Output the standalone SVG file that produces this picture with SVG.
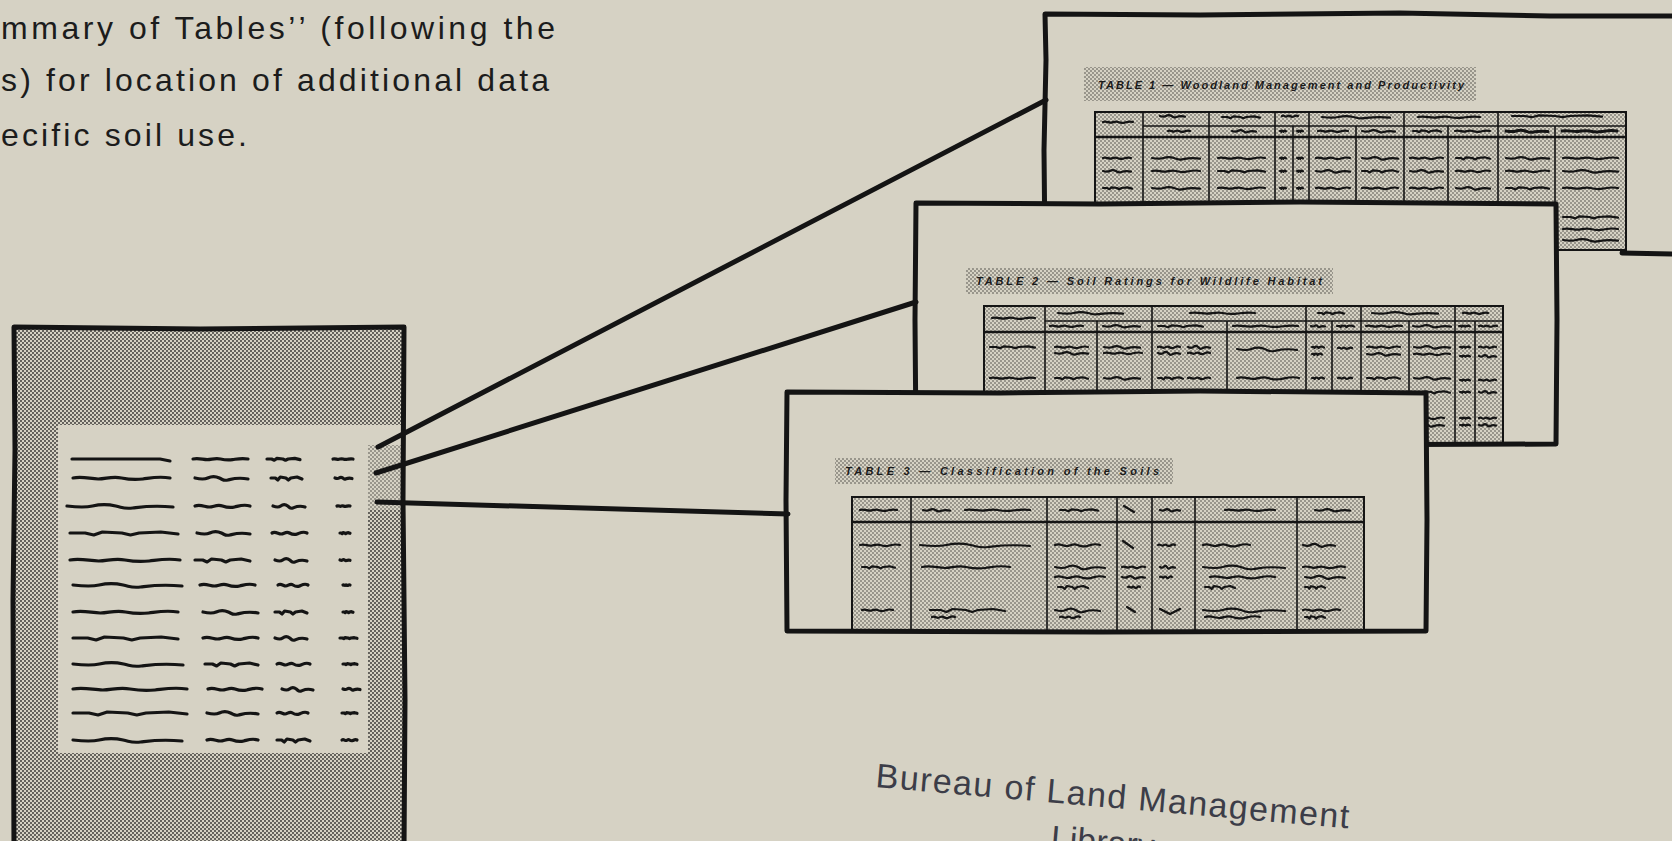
<svg xmlns="http://www.w3.org/2000/svg" width="1672" height="841" viewBox="0 0 1672 841">
<defs>
<pattern id="dk" width="4" height="4" patternUnits="userSpaceOnUse">
<rect width="4" height="4" fill="#d6d2c4"/>
<circle cx="1" cy="1" r="0.88" fill="#2b2a28"/>
<circle cx="3" cy="3" r="0.88" fill="#2b2a28"/>
</pattern>
<pattern id="lt" width="4" height="4" patternUnits="userSpaceOnUse">
<rect width="4" height="4" fill="#d6d2c4"/>
<circle cx="1" cy="1" r="0.72" fill="#3a3935"/>
<circle cx="3" cy="3" r="0.72" fill="#3a3935"/>
</pattern>
<path id="wa" class="wv" vector-effect="non-scaling-stroke" d="M0 0 C10 -2 18 1 26 1 S40 -2 50 0 S64 2 72 1 S88 -2 100 0"/>
<path id="wb" class="wv" vector-effect="non-scaling-stroke" d="M0 0 C8 1 16 2 24 0 S38 -2 46 0 S54 3 62 2 S80 -1 100 1"/>
<path id="wc" class="wv" vector-effect="non-scaling-stroke" d="M0 0 L14 0 L22 2 L30 -1 L48 0 L56 2 L64 0 L84 -1 L100 1"/>
</defs>
<style>
.wv{fill:none;stroke:#141414;stroke-linecap:round;stroke-linejoin:round}
.d{stroke-width:3.2}
.t{stroke-width:2.2}
.pg{fill:#d6d2c4}
.bd{fill:none;stroke:#141414;stroke-width:5;stroke-linejoin:round;stroke-linecap:round}
.tb{fill:url(#lt);stroke:#141414;stroke-width:2}
.ln{stroke:#141414;stroke-width:1.6}
.hl{stroke:#141414;stroke-width:2.6}
.ttl{fill:url(#lt)}
.tt{font-family:"Liberation Sans",Arial,sans-serif;font-weight:bold;font-style:italic;font-size:11px;fill:#1a1a1a}
.cn{fill:none;stroke:#141414;stroke-width:5;stroke-linecap:round}
.body{font-family:"Liberation Sans",Arial,sans-serif;font-size:32px;fill:#1c1c1c}
.stamp{font-family:"Liberation Sans",Arial,sans-serif;font-size:34px;fill:#3c3d48}
</style>
<rect width="1672" height="841" fill="#d6d2c4"/>

<g id="intro-text">
<text class="body" x="1" y="39" textLength="554" lengthAdjust="spacing">mmary of Tables’’ (following the</text>
<text class="body" x="1" y="91" textLength="548" lengthAdjust="spacing">s) for location of additional data</text>
<text class="body" x="1" y="146" textLength="246" lengthAdjust="spacing">ecific soil use.</text>
</g>

<g id="page1">
<rect class="pg" x="1045" y="14" width="640" height="239"/>
<rect class="ttl" x="1084" y="67" width="392" height="34"/>
<text class="tt" x="1098" y="89" textLength="366" lengthAdjust="spacing">TABLE 1 — Woodland Management and Productivity</text>
<rect class="tb" x="1095" y="112" width="531" height="138"/>
<g class="ln">
<line x1="1143" y1="112" x2="1143" y2="250"/><line x1="1209" y1="112" x2="1209" y2="250"/>
<line x1="1275" y1="112" x2="1275" y2="250"/><line x1="1309" y1="112" x2="1309" y2="250"/>
<line x1="1404" y1="112" x2="1404" y2="250"/><line x1="1498" y1="112" x2="1498" y2="250"/>
<line x1="1293" y1="126" x2="1293" y2="250"/><line x1="1356" y1="126" x2="1356" y2="250"/>
<line x1="1448" y1="126" x2="1448" y2="250"/><line x1="1555" y1="126" x2="1555" y2="250"/>
<line x1="1143" y1="126" x2="1626" y2="126"/>
</g>
<line class="hl" x1="1095" y1="137" x2="1626" y2="137"/>
<g class="t">
<use href="#wa" transform="translate(1103 122) scale(.30 .6)"/>
<use href="#wb" transform="translate(1160 116) scale(.25 .6)"/>
<use href="#wc" transform="translate(1222 117) scale(.38 .6)"/>
<use href="#wa" transform="translate(1282 116) scale(.16 .6)"/>
<use href="#wb" transform="translate(1322 117) scale(.68 .6)"/>
<use href="#wa" transform="translate(1418 117) scale(.62 .6)"/>
<use href="#wc" transform="translate(1512 116) scale(.90 .6)"/>
<use href="#wa" transform="translate(1168 131) scale(.22 .6)"/>
<use href="#wb" transform="translate(1232 131) scale(.24 .6)"/>
<use href="#wc" transform="translate(1280 131) scale(.06 .4)"/>
<use href="#wc" transform="translate(1297 131) scale(.06 .4)"/>
<use href="#wa" transform="translate(1318 131) scale(.30 .6)"/>
<use href="#wb" transform="translate(1362 131) scale(.33 .6)"/>
<use href="#wc" transform="translate(1413 131) scale(.28 .6)"/>
<use href="#wa" transform="translate(1455 131) scale(.35 .6)"/>
<use href="#wb" style="stroke-width:3" transform="translate(1506 131) scale(.42 .6)"/>
<use href="#wa" style="stroke-width:3" transform="translate(1562 131) scale(.55 .6)"/>
<use href="#wa" transform="translate(1103 158) scale(.28 .6)"/>
<use href="#wb" transform="translate(1103 171) scale(.28 .6)"/>
<use href="#wc" transform="translate(1103 188) scale(.29 .6)"/>
<use href="#wb" transform="translate(1152 158) scale(.48 .7)"/>
<use href="#wa" transform="translate(1152 171) scale(.48 .7)"/>
<use href="#wb" transform="translate(1152 188) scale(.48 .7)"/>
<use href="#wa" transform="translate(1218 158) scale(.47 .7)"/>
<use href="#wc" transform="translate(1218 171) scale(.47 .7)"/>
<use href="#wa" transform="translate(1218 188) scale(.47 .7)"/>
<use href="#wc" transform="translate(1280 158) scale(.06 .4)"/>
<use href="#wc" transform="translate(1297 158) scale(.06 .4)"/>
<use href="#wc" transform="translate(1280 171) scale(.06 .4)"/>
<use href="#wc" transform="translate(1297 171) scale(.06 .4)"/>
<use href="#wc" transform="translate(1280 188) scale(.06 .4)"/>
<use href="#wc" transform="translate(1297 188) scale(.06 .4)"/>
<use href="#wa" transform="translate(1316 158) scale(.34 .7)"/>
<use href="#wb" transform="translate(1316 171) scale(.34 .7)"/>
<use href="#wa" transform="translate(1316 188) scale(.34 .7)"/>
<use href="#wb" transform="translate(1362 158) scale(.36 .7)"/>
<use href="#wc" transform="translate(1362 171) scale(.36 .7)"/>
<use href="#wa" transform="translate(1362 188) scale(.36 .7)"/>
<use href="#wa" transform="translate(1410 158) scale(.33 .7)"/>
<use href="#wb" transform="translate(1410 171) scale(.33 .7)"/>
<use href="#wa" transform="translate(1410 188) scale(.33 .7)"/>
<use href="#wc" transform="translate(1456 158) scale(.34 .7)"/>
<use href="#wa" transform="translate(1456 171) scale(.34 .7)"/>
<use href="#wb" transform="translate(1456 188) scale(.34 .7)"/>
<use href="#wb" transform="translate(1506 158) scale(.43 .7)"/>
<use href="#wa" transform="translate(1506 171) scale(.43 .7)"/>
<use href="#wc" transform="translate(1506 188) scale(.43 .7)"/>
<use href="#wa" transform="translate(1563 158) scale(.55 .7)"/>
<use href="#wb" transform="translate(1563 171) scale(.55 .7)"/>
<use href="#wa" transform="translate(1563 188) scale(.55 .7)"/>
<use href="#wc" transform="translate(1563 217) scale(.55 .7)"/>
<use href="#wa" transform="translate(1563 229) scale(.55 .7)"/>
<use href="#wb" transform="translate(1563 240) scale(.55 .7)"/>
</g>
<path class="bd" d="M1045 253 L1044 150 L1046 60 L1045 14 L1200 15 L1400 13 L1550 16 L1672 16"/>
<path class="bd" d="M1622 253 L1672 254"/>
</g>

<g id="page2">
<rect class="pg" x="915" y="203" width="642" height="241"/>
<rect class="ttl" x="966" y="268" width="367" height="26"/>
<text class="tt" x="976" y="285" textLength="346" lengthAdjust="spacing">TABLE 2 — Soil Ratings for Wildlife Habitat</text>
<rect class="tb" x="984" y="306" width="519" height="138"/>
<g class="ln">
<line x1="1045" y1="306" x2="1045" y2="444"/><line x1="1152" y1="306" x2="1152" y2="444"/>
<line x1="1306" y1="306" x2="1306" y2="444"/><line x1="1361" y1="306" x2="1361" y2="444"/>
<line x1="1455" y1="306" x2="1455" y2="444"/>
<line x1="1097" y1="321" x2="1097" y2="444"/><line x1="1227" y1="321" x2="1227" y2="444"/>
<line x1="1332" y1="321" x2="1332" y2="444"/><line x1="1409" y1="321" x2="1409" y2="444"/>
<line x1="1475" y1="321" x2="1475" y2="444"/>
<line x1="1045" y1="321" x2="1503" y2="321"/>
</g>
<line class="hl" x1="984" y1="332" x2="1503" y2="332"/>
<g class="t">
<use href="#wa" transform="translate(992 318) scale(.43 .6)"/>
<use href="#wb" transform="translate(1058 313) scale(.65 .6)"/>
<use href="#wa" transform="translate(1190 313) scale(.65 .6)"/>
<use href="#wc" transform="translate(1318 313) scale(.26 .6)"/>
<use href="#wb" transform="translate(1372 313) scale(.66 .6)"/>
<use href="#wa" transform="translate(1463 313) scale(.25 .6)"/>
<use href="#wa" transform="translate(1050 326) scale(.33 .6)"/>
<use href="#wb" transform="translate(1103 326) scale(.37 .6)"/>
<use href="#wc" transform="translate(1158 326) scale(.45 .6)"/>
<use href="#wa" transform="translate(1233 326) scale(.65 .6)"/>
<use href="#wb" transform="translate(1311 326) scale(.14 .5)"/>
<use href="#wc" transform="translate(1337 326) scale(.17 .5)"/>
<use href="#wa" transform="translate(1366 326) scale(.36 .6)"/>
<use href="#wb" transform="translate(1413 326) scale(.38 .6)"/>
<use href="#wc" transform="translate(1459 326) scale(.11 .4)"/>
<use href="#wa" transform="translate(1479 326) scale(.18 .5)"/>
<use href="#wc" transform="translate(990 347) scale(.45 .6)"/>
<use href="#wa" transform="translate(990 378) scale(.45 .6)"/>
<use href="#wa" transform="translate(1055 347) scale(.33 .7)"/>
<use href="#wb" transform="translate(1055 353) scale(.33 .7)"/>
<use href="#wc" transform="translate(1055 378) scale(.33 .7)"/>
<use href="#wb" transform="translate(1104 347) scale(.36 .7)"/>
<use href="#wa" transform="translate(1104 353) scale(.38 .7)"/>
<use href="#wb" transform="translate(1104 378) scale(.36 .7)"/>
<use href="#wa" transform="translate(1158 347) scale(.22 .8)"/>
<use href="#wb" transform="translate(1188 347) scale(.22 .8)"/>
<use href="#wb" transform="translate(1158 353) scale(.22 .8)"/>
<use href="#wa" transform="translate(1188 353) scale(.22 .8)"/>
<use href="#wc" transform="translate(1158 378) scale(.25 .7)"/>
<use href="#wa" transform="translate(1188 378) scale(.22 .7)"/>
<use href="#wb" transform="translate(1237 349) scale(.60 1)"/>
<use href="#wa" transform="translate(1237 378) scale(.62 1)"/>
<use href="#wc" transform="translate(1312 347) scale(.12 .5)"/>
<use href="#wc" transform="translate(1312 354) scale(.10 .5)"/>
<use href="#wc" transform="translate(1312 378) scale(.12 .5)"/>
<use href="#wa" transform="translate(1338 348) scale(.14 .6)"/>
<use href="#wa" transform="translate(1338 378) scale(.14 .6)"/>
<use href="#wa" transform="translate(1367 347) scale(.33 .7)"/>
<use href="#wb" transform="translate(1367 354) scale(.33 .7)"/>
<use href="#wc" transform="translate(1367 378) scale(.33 .7)"/>
<use href="#wb" transform="translate(1414 347) scale(.36 .7)"/>
<use href="#wa" transform="translate(1414 354) scale(.36 .7)"/>
<use href="#wb" transform="translate(1414 378) scale(.36 .7)"/>
<use href="#wc" transform="translate(1414 392) scale(.36 .7)"/>
<use href="#wa" transform="translate(1414 418) scale(.30 .7)"/>
<use href="#wb" transform="translate(1414 425) scale(.30 .7)"/>
<use href="#wc" transform="translate(1460 347) scale(.10 .4)"/>
<use href="#wc" transform="translate(1460 356) scale(.10 .4)"/>
<use href="#wc" transform="translate(1460 380) scale(.10 .4)"/>
<use href="#wc" transform="translate(1460 392) scale(.10 .4)"/>
<use href="#wc" transform="translate(1460 418) scale(.10 .4)"/>
<use href="#wc" transform="translate(1460 425) scale(.10 .4)"/>
<use href="#wa" transform="translate(1479 347) scale(.17 .6)"/>
<use href="#wb" transform="translate(1479 356) scale(.17 .6)"/>
<use href="#wa" transform="translate(1479 380) scale(.17 .6)"/>
<use href="#wb" transform="translate(1479 392) scale(.17 .6)"/>
<use href="#wa" transform="translate(1479 418) scale(.17 .6)"/>
<use href="#wb" transform="translate(1479 425) scale(.17 .6)"/>
</g>
<path class="bd" d="M916 203 L1100 204 L1300 202 L1556 204 L1557 320 L1556 444 L1300 445 L916 444 L915 320 Z"/>
</g>

<g id="page3">
<rect class="pg" x="787" y="392" width="639" height="239"/>
<rect class="ttl" x="835" y="458" width="338" height="26"/>
<text class="tt" x="845" y="475" textLength="314" lengthAdjust="spacing">TABLE 3 — Classification of the Soils</text>
<rect class="tb" x="852" y="497" width="512" height="134"/>
<g class="ln">
<line x1="911" y1="497" x2="911" y2="631"/><line x1="1047" y1="497" x2="1047" y2="631"/>
<line x1="1117" y1="497" x2="1117" y2="631"/><line x1="1152" y1="497" x2="1152" y2="631"/>
<line x1="1195" y1="497" x2="1195" y2="631"/><line x1="1297" y1="497" x2="1297" y2="631"/>
</g>
<line class="hl" x1="852" y1="522" x2="1364" y2="522"/>
<g class="t">
<use href="#wa" transform="translate(860 510) scale(.37 .6)"/>
<use href="#wb" transform="translate(923 510) scale(.27 .6)"/>
<use href="#wa" transform="translate(965 510) scale(.65 .6)"/>
<use href="#wc" transform="translate(1060 510) scale(.38 .6)"/>
<path class="wv" d="M1124 506 L1134 512"/>
<use href="#wb" transform="translate(1160 510) scale(.20 .6)"/>
<use href="#wa" transform="translate(1225 510) scale(.50 .6)"/>
<use href="#wb" transform="translate(1315 510) scale(.35 .6)"/>
<use href="#wa" transform="translate(860 545) scale(.40 .7)"/>
<use href="#wc" transform="translate(862 567) scale(.33 .7)"/>
<use href="#wa" transform="translate(862 610) scale(.31 .7)"/>
<use href="#wb" transform="translate(920 545) scale(1.10 1)"/>
<use href="#wa" transform="translate(922 567) scale(.88 1)"/>
<use href="#wc" transform="translate(930 610) scale(.75 1)"/>
<use href="#wa" transform="translate(932 617) scale(.23 .8)"/>
<use href="#wa" transform="translate(1055 545) scale(.45 1)"/>
<use href="#wb" transform="translate(1055 567) scale(.50 1)"/>
<use href="#wa" transform="translate(1055 577) scale(.50 1)"/>
<use href="#wc" transform="translate(1058 587) scale(.30 1)"/>
<use href="#wb" transform="translate(1055 610) scale(.45 1)"/>
<use href="#wa" transform="translate(1060 617) scale(.20 .8)"/>
<path class="wv" d="M1123 541 L1133 548"/>
<use href="#wa" transform="translate(1122 567) scale(.23 .7)"/>
<use href="#wb" transform="translate(1122 577) scale(.23 .7)"/>
<use href="#wa" transform="translate(1128 587) scale(.12 .7)"/>
<path class="wv" d="M1127 607 L1135 612"/>
<use href="#wa" transform="translate(1158 545) scale(.17 .7)"/>
<use href="#wb" transform="translate(1160 567) scale(.15 .7)"/>
<use href="#wa" transform="translate(1160 577) scale(.12 .7)"/>
<path class="wv" style="stroke-width:2.4" d="M1160 609 L1170 614 L1180 609"/>
<use href="#wa" transform="translate(1203 545) scale(.47 1)"/>
<use href="#wb" transform="translate(1203 567) scale(.82 1)"/>
<use href="#wa" transform="translate(1210 577) scale(.65 1)"/>
<use href="#wc" transform="translate(1205 587) scale(.30 1)"/>
<use href="#wb" transform="translate(1203 610) scale(.82 1)"/>
<use href="#wa" transform="translate(1205 617) scale(.55 1)"/>
<use href="#wb" transform="translate(1303 545) scale(.32 .8)"/>
<use href="#wa" transform="translate(1303 567) scale(.42 .8)"/>
<use href="#wb" transform="translate(1305 577) scale(.40 .8)"/>
<use href="#wc" transform="translate(1305 587) scale(.20 .8)"/>
<use href="#wa" transform="translate(1303 610) scale(.37 .8)"/>
<use href="#wc" transform="translate(1305 617) scale(.20 .8)"/>
</g>
<path class="bd" d="M787 392 L1000 393 L1200 391 L1426 393 L1427 520 L1426 631 L1100 632 L787 631 L786 500 Z"/>
</g>

<g id="document">
<rect x="14" y="327" width="390" height="530" fill="url(#dk)"/>
<rect class="pg" x="58" y="425" width="310" height="328"/>
<rect class="pg" x="368" y="425" width="34" height="20"/>
<rect x="368" y="445" width="34" height="65" fill="url(#lt)"/>
<g class="d">
<path class="wv" d="M72 459 L160 459 L170 461"/>
<use href="#wa" transform="translate(193 459) scale(.55 .6)"/>
<use href="#wc" transform="translate(267 459) scale(.33 .6)"/>
<use href="#wa" transform="translate(333 459) scale(.20 .3)"/>
<use href="#wa" transform="translate(73 478) scale(.97 1)"/>
<use href="#wb" transform="translate(195 478) scale(.53 1)"/>
<use href="#wc" transform="translate(271 478) scale(.31 1)"/>
<use href="#wb" transform="translate(335 478) scale(.17 .5)"/>
<use href="#wb" transform="translate(67 506) scale(1.06 1)"/>
<use href="#wa" transform="translate(195 506) scale(.55 1)"/>
<use href="#wb" transform="translate(273 506) scale(.32 1)"/>
<use href="#wa" transform="translate(337 506) scale(.13 .3)"/>
<use href="#wc" transform="translate(70 533) scale(1.08 1)"/>
<use href="#wb" transform="translate(197 533) scale(.53 1)"/>
<use href="#wa" transform="translate(272 533) scale(.35 1)"/>
<use href="#wc" transform="translate(340 533) scale(.10 .3)"/>
<use href="#wa" transform="translate(70 560) scale(1.10 1)"/>
<use href="#wc" transform="translate(195 560) scale(.55 1)"/>
<use href="#wb" transform="translate(275 560) scale(.32 1)"/>
<use href="#wb" transform="translate(340 560) scale(.10 .3)"/>
<use href="#wb" transform="translate(73 585) scale(1.09 1)"/>
<use href="#wa" transform="translate(200 585) scale(.55 1)"/>
<use href="#wa" transform="translate(278 585) scale(.30 1)"/>
<use href="#wa" transform="translate(343 585) scale(.07 .3)"/>
<use href="#wa" transform="translate(73 612) scale(1.05 1)"/>
<use href="#wb" transform="translate(203 612) scale(.55 1)"/>
<use href="#wc" transform="translate(275 612) scale(.32 1)"/>
<use href="#wc" transform="translate(343 612) scale(.10 .3)"/>
<use href="#wc" transform="translate(73 638) scale(1.05 1)"/>
<use href="#wa" transform="translate(203 638) scale(.55 1)"/>
<use href="#wb" transform="translate(275 638) scale(.32 1)"/>
<use href="#wc" transform="translate(340 638) scale(.17 .3)"/>
<use href="#wb" transform="translate(73 664) scale(1.10 1)"/>
<use href="#wc" transform="translate(205 664) scale(.53 1)"/>
<use href="#wa" transform="translate(277 664) scale(.33 1)"/>
<use href="#wc" transform="translate(343 664) scale(.14 .3)"/>
<use href="#wa" transform="translate(73 689) scale(1.14 1)"/>
<use href="#wa" transform="translate(208 689) scale(.54 1)"/>
<use href="#wb" transform="translate(282 689) scale(.31 1)"/>
<use href="#wb" transform="translate(343 689) scale(.17 .5)"/>
<use href="#wc" transform="translate(73 713) scale(1.14 1)"/>
<use href="#wb" transform="translate(207 713) scale(.51 1)"/>
<use href="#wa" transform="translate(277 713) scale(.31 1)"/>
<use href="#wc" transform="translate(342 713) scale(.15 .3)"/>
<use href="#wb" transform="translate(73 740) scale(1.09 1)"/>
<use href="#wa" transform="translate(207 740) scale(.51 1)"/>
<use href="#wc" transform="translate(277 740) scale(.33 1)"/>
<use href="#wa" transform="translate(342 740) scale(.15 .5)"/>
</g>
<path class="bd" d="M14 850 L13 600 L15 450 L14 327 L200 329 L404 327 L403 500 L405 700 L404 850"/>
</g>

<g id="connectors">
<line class="cn" x1="378" y1="447" x2="1046" y2="100"/>
<line class="cn" x1="376" y1="473" x2="916" y2="302"/>
<line class="cn" x1="377" y1="502" x2="788" y2="514"/>
</g>

<g id="stamp">
<text class="stamp" transform="translate(875 787) rotate(5)" textLength="475" lengthAdjust="spacing">Bureau of Land Management</text>
<text class="stamp" transform="translate(1050 849) rotate(5)">Library</text>
</g>
</svg>
